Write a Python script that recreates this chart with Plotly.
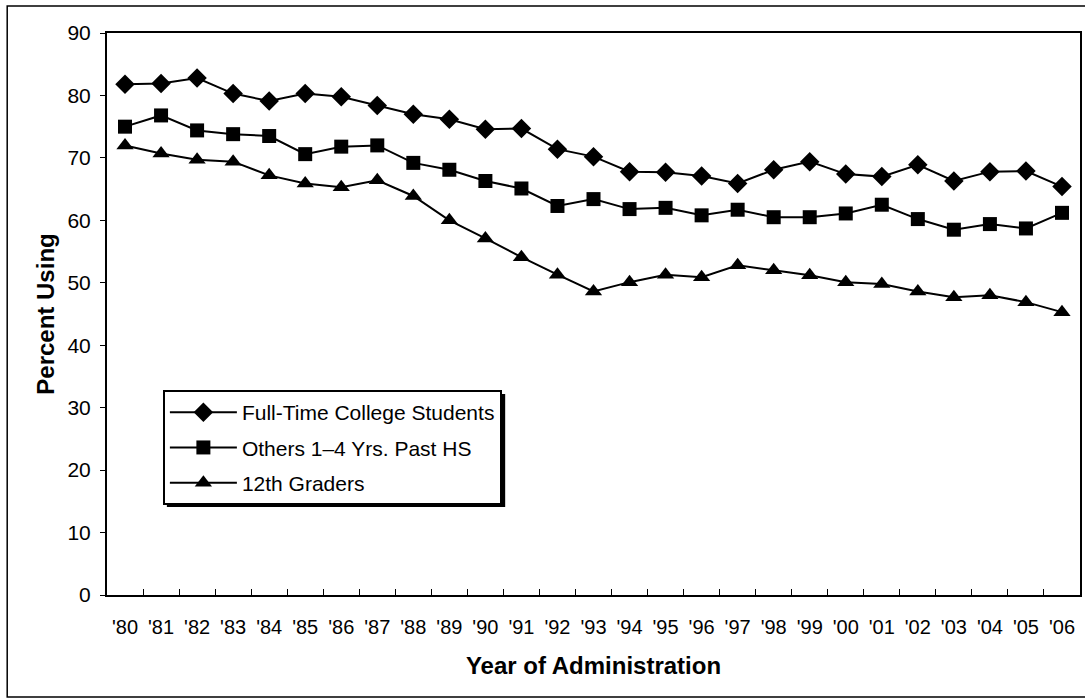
import plotly.graph_objects as go

years = ["'80", "'81", "'82", "'83", "'84", "'85", "'86", "'87", "'88", "'89",
         "'90", "'91", "'92", "'93", "'94", "'95", "'96", "'97", "'98", "'99",
         "'00", "'01", "'02", "'03", "'04", "'05", "'06"]

college = [81.8, 81.9, 82.8, 80.3, 79.1, 80.3, 79.8, 78.4, 77.0, 76.2,
           74.6, 74.7, 71.4, 70.2, 67.8, 67.7, 67.1, 65.9, 68.1, 69.4,
           67.4, 67.0, 68.9, 66.3, 67.8, 67.9, 65.4]

others = [75.0, 76.8, 74.4, 73.8, 73.5, 70.6, 71.8, 72.0, 69.2, 68.1,
          66.3, 65.1, 62.3, 63.4, 61.8, 62.0, 60.8, 61.7, 60.5, 60.5,
          61.1, 62.5, 60.2, 58.5, 59.4, 58.7, 61.2]

graders = [72.0, 70.7, 69.7, 69.4, 67.2, 65.9, 65.3, 66.4, 63.9, 60.0,
           57.1, 54.1, 51.3, 48.6, 50.1, 51.3, 50.9, 52.8, 52.0, 51.2,
           50.1, 49.8, 48.6, 47.7, 48.0, 46.9, 45.3]

series_names = ["Full-Time College Students", "Others 1\u20134 Yrs. Past HS", "12th Graders"]

FONT = "Liberation Sans, Arial, sans-serif"
W, H = 1085, 698
L, R, T, B = 107, 3, 33, 103
PW, PH = W - L - R, H - T - B


def px_to_paper(x, y):
    return (x - L) / PW, (H - B - y) / PH


fig = go.Figure()
specs = [(college, "diamond", 15), (others, "square", 14), (graders, "triangle-up", 15)]
for i, (vals, sym, sz) in enumerate(specs):
    fig.add_trace(go.Scatter(
        x=years, y=vals, mode="lines+markers", name=series_names[i],
        legendgroup=f"g{i}",
        line=dict(color="black", width=2),
        marker=dict(symbol=sym, size=sz, color="black"),
    ))

# outer frame
fx0, fy0 = px_to_paper(7, 697)
fx1, fy1 = px_to_paper(1095, 6)
# legend shadow
sx0, sy0 = px_to_paper(167, 507)
sx1, sy1 = px_to_paper(506, 394)
lx, ly = px_to_paper(163, 390)

fig.update_layout(
    width=W, height=H,
    margin=dict(l=L, r=R, t=T, b=B),
    paper_bgcolor="white", plot_bgcolor="white",
    font=dict(family=FONT, size=21, color="black"),
    showlegend=True,
    legend=dict(
        x=lx, y=ly, xanchor="left", yanchor="top",
        bgcolor="white", bordercolor="black", borderwidth=2,
        font=dict(family=FONT, size=21, color="black"),
        traceorder="grouped", tracegroupgap=5, itemwidth=67,
    ),
    shapes=[
        dict(type="rect", xref="paper", yref="paper", x0=fx0, y0=fy0, x1=fx1, y1=fy1,
             line=dict(color="black", width=1.5), fillcolor="rgba(0,0,0,0)", layer="below"),
        dict(type="rect", xref="paper", yref="paper", x0=sx0, y0=sy0, x1=sx1, y1=sy1,
             line=dict(width=0), fillcolor="black", layer="above"),
    ],
    xaxis=dict(
        type="category", range=[-0.5, 26.5],
        showline=True, linecolor="black", linewidth=2, mirror=True,
        ticks="inside", tickson="boundaries", ticklen=6, tickcolor="black", tickwidth=1,
        showgrid=False, zeroline=False,
        tickangle=0,
        tickfont=dict(family=FONT, size=20),
        ticklabelstandoff=13,
        title=dict(text="<b>Year of Administration</b>", font=dict(family=FONT, size=24), standoff=20),
    ),
    yaxis=dict(
        range=[0, 90], tickvals=list(range(0, 91, 10)),
        showline=True, linecolor="black", linewidth=2, mirror=True,
        ticks="outside", ticklen=5, tickcolor="black", tickwidth=1,
        showgrid=False, zeroline=False,
        tickfont=dict(family=FONT, size=21),
        ticklabelstandoff=5,
        title=dict(text="<b>Percent Using</b>", font=dict(family=FONT, size=24), standoff=6),
    ),
)

fig.write_html("out.html", config={"displayModeBar": False},
               post_script="document.body.style.margin='0';")
